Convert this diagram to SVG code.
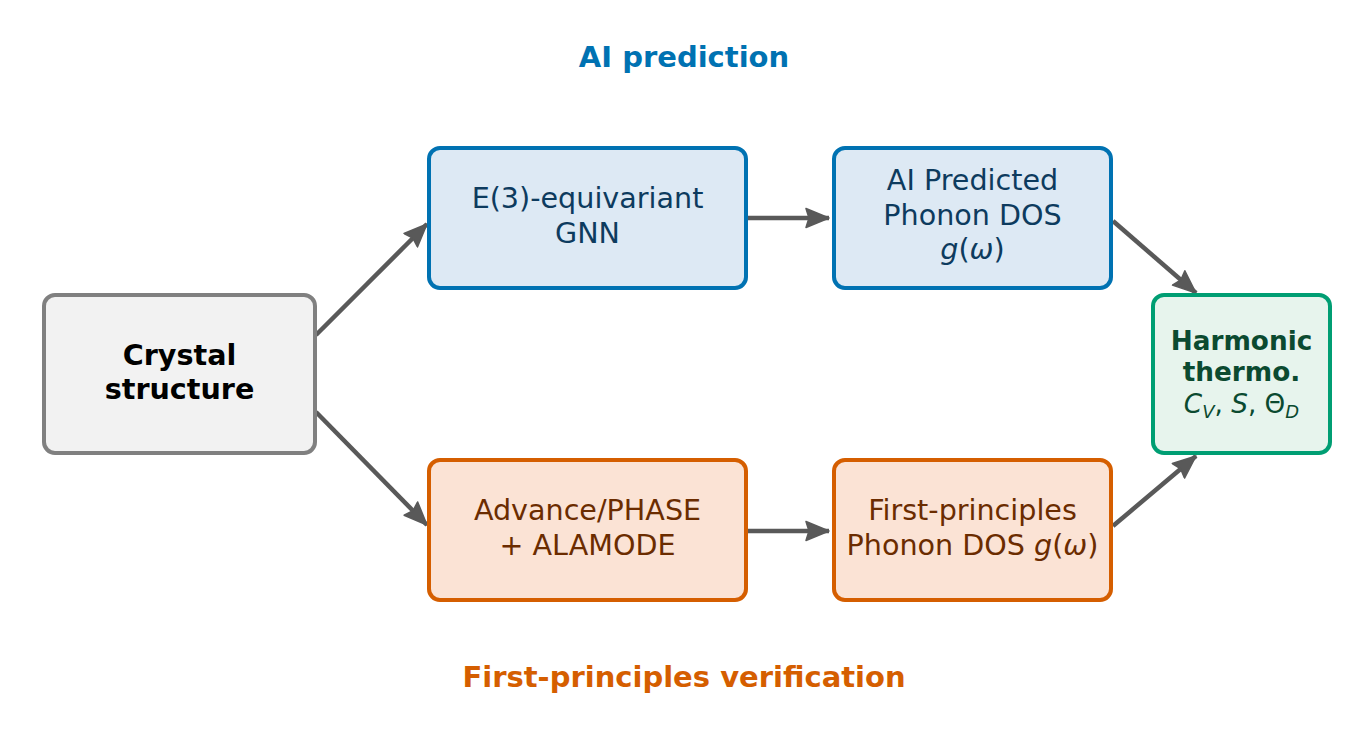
<svg xmlns="http://www.w3.org/2000/svg" width="1368" height="748" viewBox="0 0 1368 748">
<defs>
<style>
text{font-family:"DejaVu Sans","Liberation Sans",sans-serif;text-anchor:middle}
.t{font-size:28.6px}
.b{font-weight:bold}
.m{font-style:italic}
.blue rect{fill:#dde9f4;stroke:#0072b2;stroke-width:4}
.blue text{fill:#0d3b5e}
.orange rect{fill:#fbe3d5;stroke:#d55e00;stroke-width:4}
.orange text{fill:#6b2c00}
.gray rect{fill:#f2f2f2;stroke:#808080;stroke-width:4}
.green rect{fill:#e7f4ed;stroke:#009e73;stroke-width:4}
.green text{fill:#0b4a30}
.conn line{stroke:#595959;stroke-width:4.5;fill:none}
</style>
<marker id="ah" markerUnits="userSpaceOnUse" markerWidth="26" markerHeight="22" viewBox="0 0 26 22" refX="24" refY="11" orient="auto">
<path d="M1,1.5 L24,11 L1,20.5 L4,11 Z" fill="#595959" stroke="#595959" stroke-width="1.5" stroke-linejoin="round"/>
</marker>
</defs>
<rect width="1368" height="748" fill="#fff"/>
<text x="684" y="67" class="b" style="font-size:29px;fill:#0072b2">AI prediction</text>
<text x="684" y="687" class="b" style="font-size:29px;fill:#d55e00">First-principles verification</text>
<g class="conn">
<line x1="316" y1="335" x2="427" y2="224" marker-end="url(#ah)"/>
<line x1="316" y1="412" x2="427" y2="525" marker-end="url(#ah)"/>
<line x1="748" y1="218" x2="829" y2="218" marker-end="url(#ah)"/>
<line x1="748" y1="531" x2="829" y2="531" marker-end="url(#ah)"/>
<line x1="1113" y1="221" x2="1196" y2="293" marker-end="url(#ah)"/>
<line x1="1113" y1="526" x2="1196" y2="456" marker-end="url(#ah)"/>
</g>
<g id="crystal" class="gray">
<rect x="44" y="295" width="271" height="158" rx="11"/>
<text x="179.5" y="365" class="t b" fill="#000">Crystal</text>
<text x="179.5" y="399" class="t b" fill="#000">structure</text>
</g>
<g id="gnn" class="blue">
<rect x="429" y="148" width="317" height="140" rx="11"/>
<text x="587.5" y="208" class="t">E(3)-equivariant</text>
<text x="587.5" y="243" class="t">GNN</text>
</g>
<g id="aidos" class="blue">
<rect x="834" y="148" width="277" height="140" rx="11"/>
<text x="972.5" y="190" class="t">AI Predicted</text>
<text x="972.5" y="225" class="t">Phonon DOS</text>
<text x="972.5" y="259" class="t"><tspan class="m">g</tspan>(<tspan class="m">ω</tspan>)</text>
</g>
<g id="alamode" class="orange">
<rect x="429" y="460" width="317" height="140" rx="11"/>
<text x="587.5" y="520" class="t">Advance/PHASE</text>
<text x="587.5" y="555" class="t">+ ALAMODE</text>
</g>
<g id="fpdos" class="orange">
<rect x="834" y="460" width="277" height="140" rx="11"/>
<text x="972.5" y="520" class="t">First-principles</text>
<text x="972.5" y="555" class="t">Phonon DOS <tspan class="m">g</tspan>(<tspan class="m">ω</tspan>)</text>
</g>
<g id="thermo" class="green">
<rect x="1153" y="295" width="177" height="158" rx="11"/>
<text x="1241.5" y="350" class="b" style="font-size:26.3px">Harmonic</text>
<text x="1241.5" y="381" class="b" style="font-size:26.3px">thermo.</text>
<text x="1241.5" y="413" style="font-size:26.3px"><tspan class="m">C</tspan><tspan class="m" style="font-size:18px" dy="5">V</tspan><tspan dy="-5">, </tspan><tspan class="m">S</tspan>, Θ<tspan class="m" style="font-size:18px" dy="5">D</tspan></text>
</g>
</svg>
